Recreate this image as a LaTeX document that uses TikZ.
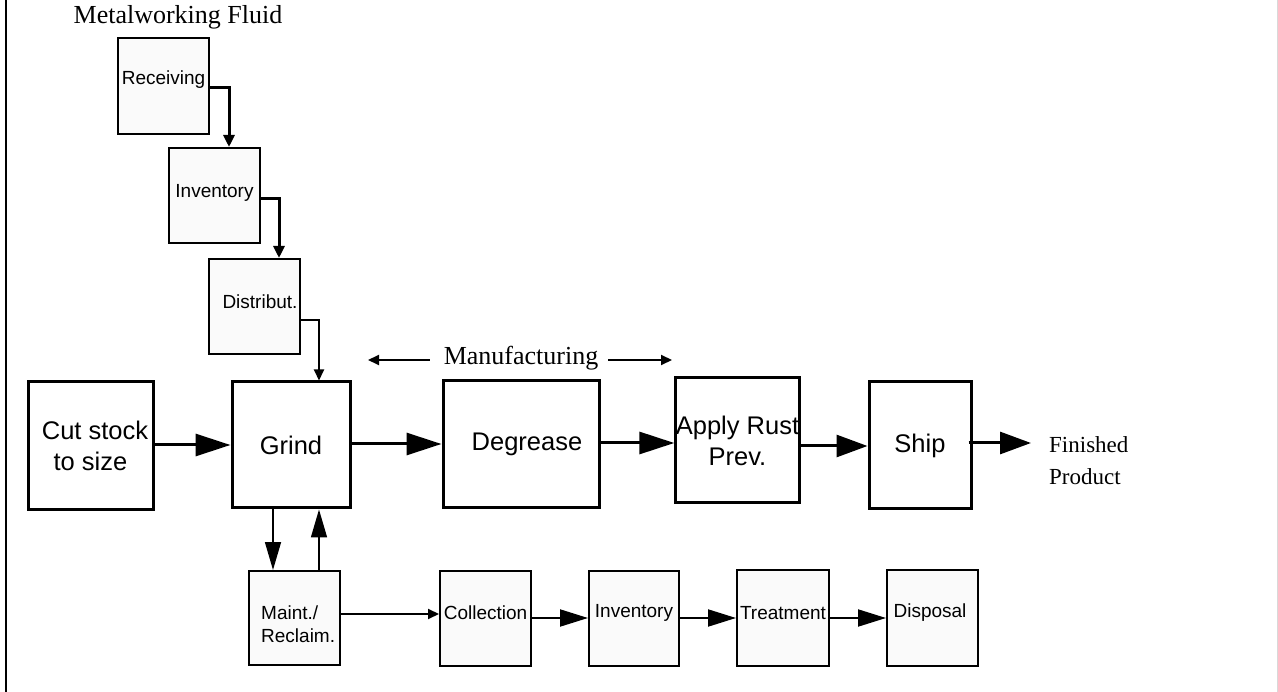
\documentclass[tikz,border=0pt]{standalone}
\usepackage{fontspec}
\setmainfont{Liberation Serif}
\newfontfamily\arial{Liberation Sans}
\usetikzlibrary{arrows.meta}

\begin{document}
\begin{tikzpicture}[x=1pt,y=-1pt,
  bigbox/.style={draw, line width=3pt, inner sep=0pt, align=center,
    font=\arial\fontsize{25.5}{31}\selectfont},
  smallbox/.style={draw, line width=2pt, fill=black!2, inner sep=0pt},
  smalltxt/.style={inner sep=0pt, align=left, font=\arial\fontsize{19}{23}\selectfont},
  serif/.style={inner sep=0pt, font=\fontsize{26}{30}\selectfont},
  bigarrow/.style={line width=3pt, -{Triangle[length=35pt,width=22pt]}},
  midarrow/.style={line width=2pt, -{Triangle[length=28pt,width=17pt]}},
  feedarrow/.style={line width=1.6pt, -{Triangle[length=28pt,width=16pt]}},
  feedline/.style={line width=3pt, -{Triangle[length=12pt,width=11pt]}},
  thinarrow/.style={line width=2pt, -{Triangle[length=11pt,width=10pt]}},
]
\useasboundingbox (0,0) rectangle (1278,692);
% page frame
\draw[line width=2pt] (6,0) -- (6,692);
\draw[line width=1pt, black!15] (1277,0) -- (1277,692);

% fluid supply chain
\node[serif] (mwf) at (178,17) {Metalworking Fluid};
\node[smallbox, minimum width=91pt, minimum height=96pt] (rcv) at (163.5,86) {};
\node[smalltxt] (rcvt) at ([yshift=6pt]rcv.center) {Receiving};
\node[smallbox, minimum width=91pt, minimum height=95pt] (inva) at (214.5,195.5) {};
\node[smalltxt] (invat) at ([yshift=2.5pt]inva.center) {Inventory};
\node[smallbox, minimum width=91pt, minimum height=95pt] (dist) at (254.5,306.5) {};
\node[smalltxt] (distt) at ([xshift=5.5pt,yshift=4.5pt]dist.center) {Distribut.};

% main manufacturing line
\node[bigbox, minimum width=125pt, minimum height=128pt] (cut) at (90.5,446) {\hspace*{9pt}Cut stock\\to size};
\node[bigbox, minimum width=118pt, minimum height=126pt] (grind) at (291,445) {Grind};
\node[bigbox, minimum width=156pt, minimum height=127pt] (degr) at (521,444.5) {\hspace*{12pt}Degrease};
\node[bigbox, minimum width=123pt, minimum height=125pt] (rust) at (737.5,440.5) {Apply Rust\\Prev.};
\node[bigbox, minimum width=102pt, minimum height=127pt] (ship) at (920,445.5) {Ship};
\node[inner sep=0pt, anchor=west, align=left, font=\fontsize{23}{32}\selectfont] (fin) at (1049,461) {Finished\\Product};
\coordinate (finin) at (1031,443);

\node[serif] (man) at (521,358) {Manufacturing};
\coordinate (manL) at (368,360);
\coordinate (manR) at (672,360);

% waste stream
\node[smallbox, minimum width=91pt, minimum height=94pt] (maint) at (294.5,618) {};
\node[smalltxt, anchor=west] (maintt) at (261,624.5) {Maint./\\Reclaim.};
\node[smallbox, minimum width=91pt, minimum height=95pt] (coll) at (485.5,618.5) {};
\node[smalltxt] (collt) at ([yshift=5.5pt]coll.center) {Collection};
\node[smallbox, minimum width=90pt, minimum height=95pt] (invb) at (634,618.5) {};
\node[smalltxt] (invbt) at ([yshift=5.5pt]invb.center) {Inventory};
\node[smallbox, minimum width=92pt, minimum height=96pt] (treat) at (783,618) {};
\node[smalltxt] (treatt) at ([yshift=5pt]treat.center) {Treatment};
\node[smallbox, minimum width=91pt, minimum height=96pt] (disp) at (932.5,618) {};
\node[smalltxt] (dispt) at ([xshift=-2.5pt,yshift=5pt]disp.center) {Disposal};

% supply connectors
\draw[feedline] ([yshift=-2pt]rcv.east) -| ([xshift=14.5pt]inva.north);
\draw[feedline] ([yshift=-3.5pt]inva.east) -| ([xshift=24.5pt]dist.north);
\draw[thinarrow] ([yshift=-13.5pt]dist.east) -| ([xshift=28pt]grind.north);

% manufacturing arrows
\draw[thinarrow] ([xshift=-14pt]man.west |- manL) -- (manL);
\draw[thinarrow] ([xshift=10pt]man.east |- manR) -- (manR);

% main line connectors
\draw[bigarrow] (cut.east |- 0,445) -- (grind.west |- 0,445);
\draw[bigarrow] (grind.east |- 0,444) -- (degr.west |- 0,444);
\draw[bigarrow] (degr.east |- 0,443) -- (rust.west |- 0,443);
\draw[bigarrow, -{Triangle[length=31pt,width=22pt]}] (rust.east |- 0,446) -- (ship.west |- 0,446);
\draw[bigarrow, -{Triangle[length=31pt,width=22pt]}] ([xshift=-4pt]ship.east |- 0,443) -- (finin);

% grind / maintenance loop
\draw[feedarrow] ([xshift=-18pt]grind.south) -- ([xshift=-18pt]grind.south |- maint.north);
\draw[feedarrow] ([xshift=28pt]grind.south |- maint.north) -- ([xshift=28pt]grind.south);

% waste stream connectors
\draw[thinarrow] (maint.east |- 0,614) -- (coll.west |- 0,614);
\draw[midarrow] (coll.east |- 0,618) -- (invb.west |- 0,618);
\draw[midarrow] (invb.east |- 0,618) -- (treat.west |- 0,618);
\draw[midarrow] (treat.east |- 0,618) -- (disp.west |- 0,618);
\end{tikzpicture}
\end{document}
